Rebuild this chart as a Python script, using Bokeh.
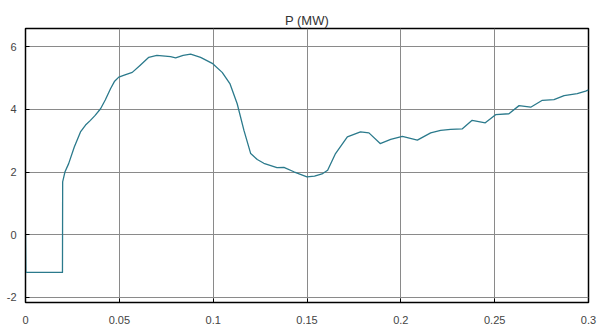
from bokeh.plotting import figure
from bokeh.models import Range1d, FixedTicker
from bokeh.embed import file_html
from bokeh.resources import INLINE

# data (time in s, power in MW)
t = [0, 0.0002, 0.0197, 0.0198, 0.021, 0.023, 0.026, 0.0293, 0.032, 0.0346, 0.037, 0.04, 0.0425,
     0.0453, 0.0475, 0.0497, 0.053, 0.0569, 0.061, 0.0657, 0.07, 0.0773, 0.08, 0.084, 0.088, 0.0933,
     0.0995, 0.1048, 0.109, 0.1128, 0.1164, 0.12, 0.1235, 0.127, 0.134, 0.1377, 0.143, 0.150, 0.154,
     0.158, 0.161, 0.1652, 0.1715, 0.1785, 0.183, 0.189, 0.1946, 0.2008, 0.2088, 0.2159, 0.2212,
     0.2265, 0.2328, 0.238, 0.245, 0.2505, 0.2576, 0.263, 0.2692, 0.2754, 0.2816, 0.287, 0.294,
     0.2985, 0.3]
p = [0, -1.2, -1.2, 1.69, 2.0, 2.27, 2.8, 3.28, 3.5, 3.65, 3.8, 4.02, 4.3, 4.66, 4.9, 5.03, 5.1,
     5.18, 5.4, 5.66, 5.72, 5.68, 5.64, 5.72, 5.76, 5.66, 5.47, 5.18, 4.81, 4.18, 3.33, 2.59, 2.4,
     2.28, 2.14, 2.15, 2.01, 1.85, 1.87, 1.94, 2.06, 2.59, 3.12, 3.28, 3.25, 2.91, 3.04, 3.14, 3.02,
     3.25, 3.33, 3.36, 3.38, 3.65, 3.57, 3.83, 3.86, 4.12, 4.07, 4.29, 4.31, 4.44, 4.5, 4.58, 4.62]

x_ticks = [0, 0.05, 0.1, 0.15, 0.2, 0.25, 0.3]
x_labels = ["0", "0.05", "0.1", "0.15", "0.2", "0.25", "0.3"]
y_ticks = [-2, 0, 2, 4, 6]
y_labels = ["-2", "0", "2", "4", "6"]

p_fig = figure(width=603, height=330, output_backend="svg", toolbar_location=None,
               x_range=Range1d(0, 0.3), y_range=Range1d(-2.16, 6.58),
               title="P (MW)", min_border_left=25, min_border_right=15,
               min_border_top=28, min_border_bottom=28)

p_fig.title.align = "center"
p_fig.title.text_font = "Liberation Sans"
p_fig.title.text_font_size = "13px"
p_fig.title.text_font_style = "normal"
p_fig.title.text_color = "#333333"
p_fig.title.standoff = 2

p_fig.line(t, p, line_color="#2b7a8c", line_width=1.3, line_join="round")

p_fig.xaxis.ticker = FixedTicker(ticks=x_ticks)
p_fig.xaxis.major_label_overrides = dict(zip(x_ticks, x_labels))
p_fig.yaxis.ticker = FixedTicker(ticks=y_ticks)
p_fig.yaxis.major_label_overrides = dict(zip(y_ticks, y_labels))

for ax in (p_fig.xaxis, p_fig.yaxis):
    ax.major_tick_in = 4
    ax.major_tick_out = 0
    ax.minor_tick_line_color = None
    ax.axis_line_color = "black"
    ax.major_tick_line_color = "black"
    ax.major_label_text_font = "Liberation Sans"
    ax.major_label_text_font_size = "11px"
    ax.major_label_text_color = "#444444"

p_fig.xaxis.major_label_standoff = 13
p_fig.yaxis.major_label_standoff = 9

p_fig.grid.grid_line_color = "#8a8a8a"
p_fig.grid.grid_line_width = 1
p_fig.outline_line_color = "black"
p_fig.outline_line_width = 1.5
p_fig.outline_line_alpha = 1
p_fig.background_fill_color = "white"
p_fig.border_fill_color = "white"

open("out.html", "w").write(file_html(p_fig, INLINE))
